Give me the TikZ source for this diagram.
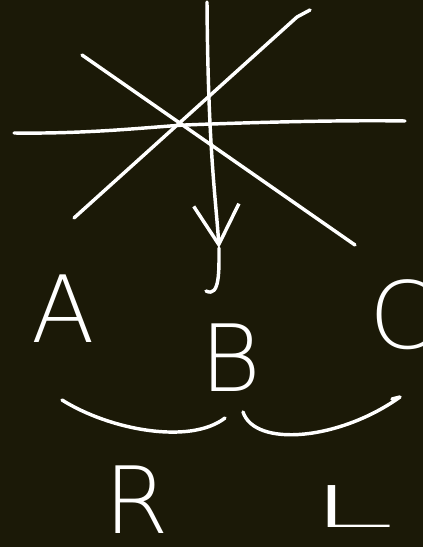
\documentclass[tikz,border=0pt]{standalone}
\usepackage{fontspec}
\usepackage{xcolor}
\usetikzlibrary{arrows.meta}
\newfontfamily\handfont{DejaVu Sans ExtraLight}
\definecolor{boardbg}{RGB}{27,25,7}

\begin{document}
\begin{tikzpicture}[
  x=0.0265cm, y=-0.0265cm,
  chalk/.style={draw=white, line width=2.6pt, line cap=round, line join=round},
  letter/.style={text=white, inner sep=0pt, font=\handfont\fontsize{70}{70}\selectfont},
  arr/.style={chalk, -{Straight Barb[length=1.05cm, width=1.2cm, line width=2.6pt]}}
]
  \fill[boardbg] (0,0) rectangle (423,547);
  \clip (0,0) rectangle (423,547);

  % the star
  \coordinate (top) at (207,2);
  \coordinate (tip) at (219,248);
  \coordinate (hook) at (206,291);
  \draw[chalk] (14,133) .. controls (90,134) and (150,127) .. (185,125)
    .. controls (260,122) and (350,120) .. (405,121);
  \draw[chalk] (82,55) -- (355,245);
  \draw[chalk] (74,218) -- (297,17) -- (310,10);
  \draw[arr] (top) .. controls (208,150) and (216,200) .. (tip);
  \draw[chalk] (tip) .. controls (219,270) and (220,298) .. (hook);

  % letters
  \node[letter] (A) at (63,309) {A};
  \node[letter] (B) at (231,358) {B};
  \node[letter] (C) at (402,315) {C};
  \node[letter] (R) at (137,500) {R};
  \node[letter] (L) at (352,507) {\scalebox{1.65}[0.62]{L}};

  % the two curves under B
  \coordinate (l1) at (62,400);
  \coordinate (l2) at (225,418);
  \coordinate (r1) at (243,412);
  \coordinate (r2) at (400,397);
  \draw[chalk] (l1) .. controls (110,430) and (190,445) .. (l2);
  \draw[chalk] (r1) .. controls (255,448) and (340,440) .. (r2) -- (392,399);
\end{tikzpicture}
\end{document}
